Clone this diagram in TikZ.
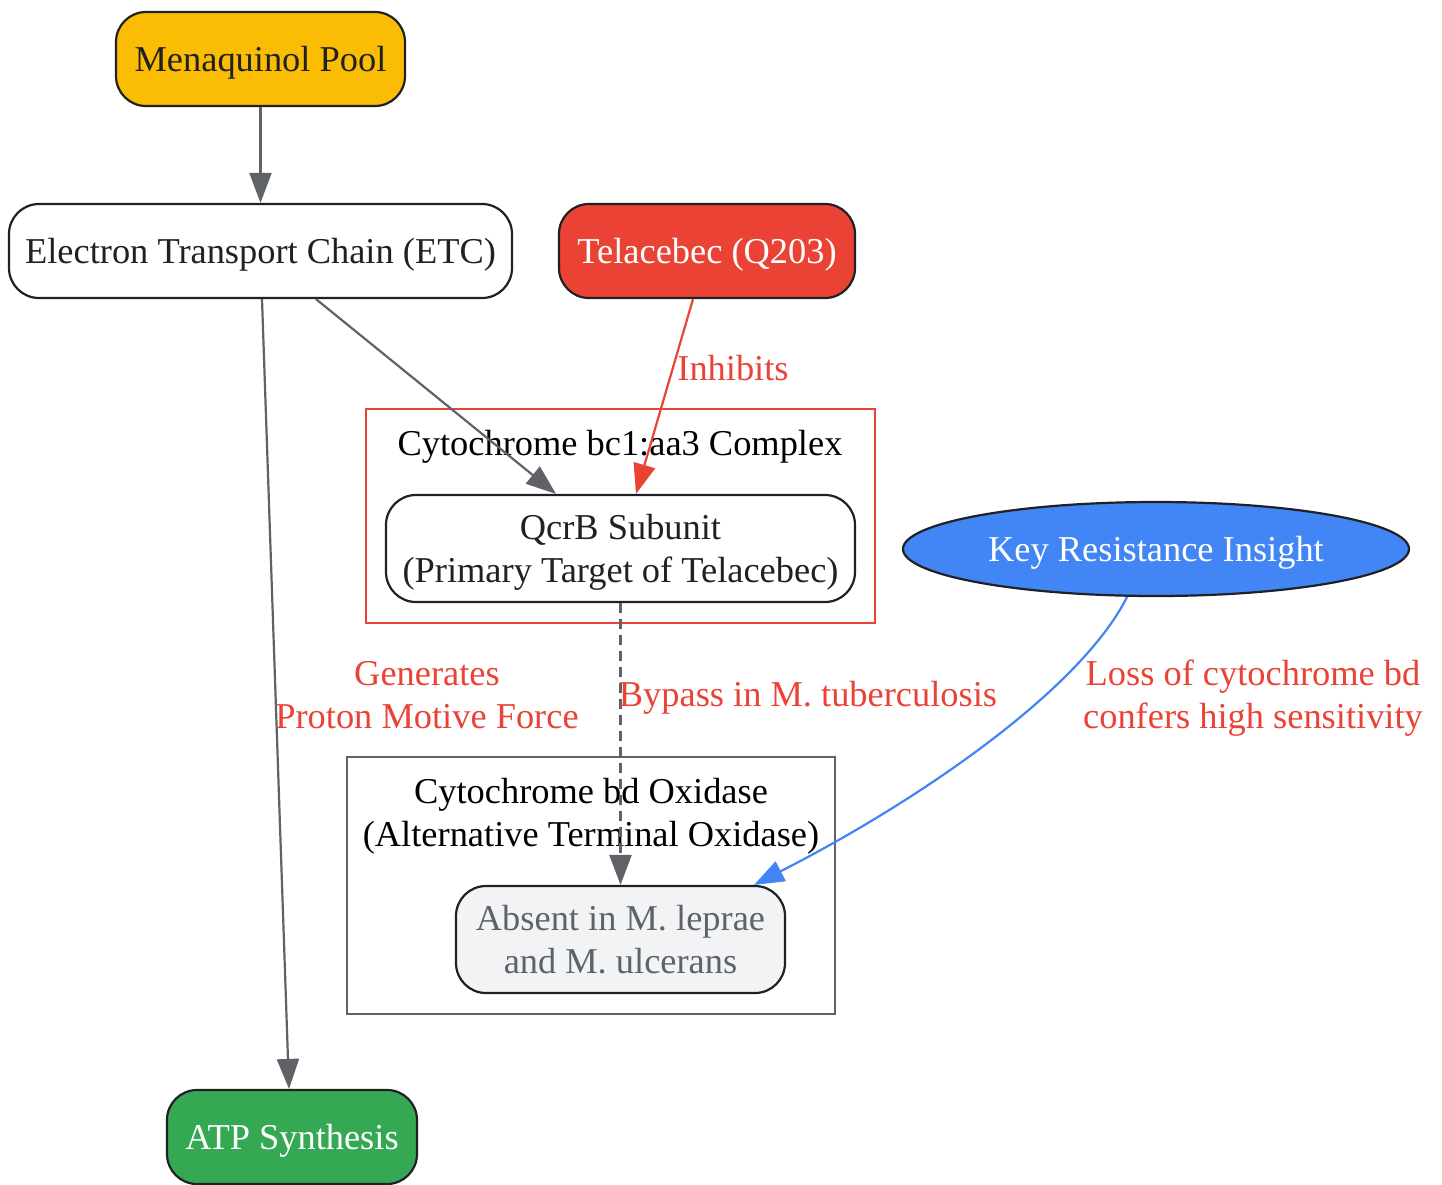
\documentclass[tikz,border=0pt]{standalone}
\usepackage{fontspec}
\setmainfont{Liberation Serif}
\usetikzlibrary{arrows.meta,shapes.geometric,calc}
\definecolor{cyel}{HTML}{FBBC04}
\definecolor{cred}{HTML}{EA4335}
\definecolor{cblue}{HTML}{4285F4}
\definecolor{cgreen}{HTML}{34A853}
\definecolor{cgray}{HTML}{5F6368}
\definecolor{clight}{HTML}{F1F3F4}
\definecolor{cborder}{HTML}{202124}
\newcommand{\fsz}{\fontsize{36.4}{43}\selectfont}
\begin{document}
\begin{tikzpicture}[x=1pt,y=-1pt,
  every node/.style={text depth=0pt},
  box/.style={draw=cborder, line width=2.2pt, rounded corners=30pt, minimum height=94pt,
    font=\fsz, text=cborder, align=center, inner sep=0pt},
  edge/.style={draw=cgray, line width=2.2pt, -{Triangle[length=30pt,width=22pt]}},
  cluster/.style={line width=2.2pt},
  lbl/.style={font=\fsz, text=cred, align=center, inner sep=0pt},
  ctitle/.style={font=\fsz, text=black, align=center, inner sep=0pt}]
\useasboundingbox (0,0) rectangle (1442,1184);
\fill[white] (0,0) rectangle (1442,1184);
% clusters
\draw[cluster, draw=cred] (366,409) rectangle (875,623);
\node[ctitle] (c1t) at (620,443) {Cytochrome bc1:aa3 Complex};
\draw[cluster, draw=cgray] (347,757) rectangle (835,1014);
\node[ctitle] (c2t) at (591,812) {Cytochrome bd Oxidase\\(Alternative Terminal Oxidase)};
% nodes
\node[box, fill=cyel, minimum width=289pt] (men) at (260.5,59) {Menaquinol Pool};
\node[box, fill=white, minimum width=503pt] (etc) at (260.5,251) {Electron Transport Chain (ETC)};
\node[box, fill=cred, text=white, minimum width=296pt] (tel) at (707,251) {Telacebec (Q203)};
\node[box, fill=white, minimum width=469pt, minimum height=107pt] (qcrb) at (620.5,548.5) {QcrB Subunit\\(Primary Target of Telacebec)};
\node[draw=cborder, line width=2.2pt, ellipse, fill=cblue, text=white, font=\fsz, inner sep=0pt,
  minimum width=506pt, minimum height=94pt] (key) at (1156,549) {Key Resistance Insight};
\node[box, fill=clight, text=cgray, minimum width=329pt, minimum height=107pt] (abs) at (620.5,939.5) {Absent in M. leprae\\and M. ulcerans};
\node[box, fill=cgreen, text=white, minimum width=250pt] (atp) at (292,1137) {ATP Synthesis};
% edges
\draw[edge] (men.south) -- (etc.north);
\draw[edge] ([xshift=1.5pt]etc.south) -- ([xshift=-3pt]atp.north);
\draw[edge] ([xshift=55.5pt]etc.south) -- ([xshift=-64.5pt]qcrb.north);
\draw[edge, draw=cred] ([xshift=-14pt]tel.south) -- ([xshift=15.5pt]qcrb.north);
\draw[edge, dash pattern=on 10pt off 6pt] (qcrb.south) -- (abs.north);
\draw[edge, draw=cblue] ([xshift=-29pt]key.south) .. controls (1080,690) and (920,800) .. ([xshift=133.5pt]abs.north);
% edge labels
\node[lbl] (l1) at (733,368) {Inhibits};
\node[lbl] (l2) at (427,694.5) {Generates\\Proton Motive Force};
\node[lbl] (l3) at (808,694) {Bypass in M. tuberculosis};
\node[lbl] (l4) at (1253,694.5) {Loss of cytochrome bd\\confers high sensitivity};
\end{tikzpicture}
\end{document}
